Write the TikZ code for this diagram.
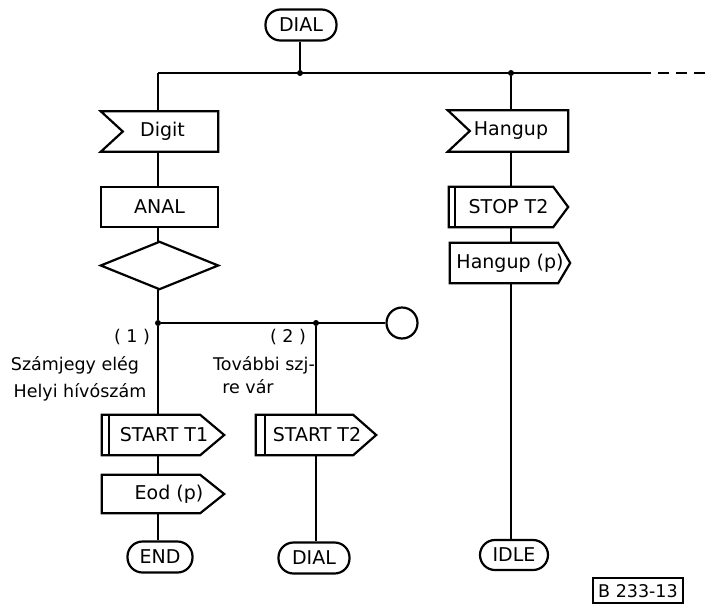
\documentclass[tikz,border=0pt]{standalone}
\usepackage{fontspec}
\setmainfont{DejaVu Sans}
\begin{document}
\begin{tikzpicture}[x=1pt,y=-1pt,
  every node/.style={inner sep=0pt},
  lbl/.style={font=\fontsize{19}{21}\selectfont},
  ann/.style={font=\fontsize{17.5}{19}\selectfont},
  term/.style={lbl, draw, line width=2.2pt, rounded corners=15pt, minimum height=31pt},
  sbox/.style={lbl, minimum height=40pt},
  outl/.style={line width=2.2pt, line join=miter},
  conn/.style={line width=1.4pt},
  jdot/.style={circle, fill, inner sep=0pt, minimum size=6pt}
]
\useasboundingbox (0,0) rectangle (710,603);

% ---- top ----
\node[term, minimum width=71pt] (dial0) at (301,25) {DIAL};
\node[jdot] (j0) at (300,73) {};
\node[jdot] (j0r) at (511,73) {};
\coordinate (busL) at (158,73);
\coordinate (busS) at (640,73);
\coordinate (busE) at (710,73);

% ---- left column ----
\node[sbox, minimum width=117pt] (digit) at (159.5,131.5) {\hspace*{6pt}Digit};
\node[sbox, draw, outl, minimum width=117pt, minimum height=40pt] (anal) at (159.5,207) {ANAL};
\node[minimum width=117pt, minimum height=47pt] (dec) at (159.5,265.5) {};
\node[jdot] (j1) at (158,323) {};
\node[jdot] (j2) at (316,323) {};
\node[circle, draw, line width=2.2pt, minimum size=31pt] (circ) at (402,323) {};

\node[ann] (n1) at (132,337) {( 1 )};
\node[ann] (t1a) at (75,365) {Számjegy elég};
\node[ann] (t1b) at (80,392) {Helyi hívószám};
\node[ann] (n2) at (288,337) {( 2 )};
\node[ann] (t2a) at (264,365) {További szj-};
\node[ann] (t2b) at (248,387) {re vár};

\node[sbox, minimum width=122pt] (start1) at (163,435) {\hspace*{2pt}START T1};
\node[sbox, minimum width=122pt, minimum height=38pt] (eod) at (163,494) {\hspace*{12pt}Eod (p)};
\node[term, minimum width=65pt] (endn) at (160,557) {END};

% ---- middle column ----
\node[sbox, minimum width=120pt] (start2) at (316,435) {\hspace*{2pt}START T2};
\node[term, minimum width=71pt] (dial2) at (314,558) {DIAL};

% ---- right column ----
\node[sbox, minimum width=120pt, minimum height=41pt] (hang) at (508,131) {\hspace*{6pt}Hangup};
\node[sbox, minimum width=119pt] (stop2) at (508.5,207) {STOP T2};
\node[sbox, minimum width=120pt] (hangp) at (510,263) {Hangup (p)};
\node[term, minimum width=68pt, minimum height=30pt] (idle) at (514,555) {IDLE};

\node[ann, draw, line width=1.4pt, minimum width=90pt, minimum height=25pt, text depth=0pt] (ref) at (638,590.5) {B 233-13};

% ---- shape outlines ----
% input signals
\draw[outl] (digit.north west) -- (digit.north east) -- (digit.south east) -- (digit.south west) -- ([xshift=22pt]digit.west) -- cycle;
\draw[outl] (hang.north west) -- (hang.north east) -- (hang.south east) -- (hang.south west) -- ([xshift=22pt]hang.west) -- cycle;
% decision
\draw[outl] (dec.north) -- (dec.east) -- (dec.south) -- (dec.west) -- cycle;
% output signals
\draw[outl] (start1.north west) -- ([xshift=-24pt]start1.north east) -- (start1.east) -- ([xshift=-24pt]start1.south east) -- (start1.south west) -- cycle;
\draw[outl] ([xshift=7pt]start1.north west) -- ([xshift=7pt]start1.south west);
\draw[outl] (eod.north west) -- ([xshift=-24pt]eod.north east) -- (eod.east) -- ([xshift=-24pt]eod.south east) -- (eod.south west) -- cycle;
\draw[outl] (start2.north west) -- ([xshift=-23pt]start2.north east) -- (start2.east) -- ([xshift=-23pt]start2.south east) -- (start2.south west) -- cycle;
\draw[outl] ([xshift=9pt]start2.north west) -- ([xshift=9pt]start2.south west);
\draw[outl] (stop2.north west) -- ([xshift=-15pt]stop2.north east) -- (stop2.east) -- ([xshift=-15pt]stop2.south east) -- (stop2.south west) -- cycle;
\draw[outl] ([xshift=6pt]stop2.north west) -- ([xshift=6pt]stop2.south west);
\draw[outl] (hangp.north west) -- ([xshift=-12pt]hangp.north east) -- (hangp.east) -- ([xshift=-12pt]hangp.south east) -- (hangp.south west) -- cycle;

% ---- connectors ----
\draw[conn] (dial0.south -| j0) -- (j0);
\draw[conn] (busL) -- (busS);
\draw[conn, dash pattern=on 11pt off 7pt] (busS) -- (busE);
\draw[conn] (busL) -- (busL |- digit.north);
\draw[conn] (digit.south -| busL) -- (anal.north -| busL);
\draw[conn] (anal.south -| busL) -- (dec.north -| busL);
\draw[conn] (dec.south -| j1) -- (j1);
\draw[conn] (j1) -- (circ.west);
\draw[conn] (j1) -- (j1 |- start1.north);
\draw[conn] (start1.south -| j1) -- (eod.north -| j1);
\draw[conn] (eod.south -| j1) -- (endn.north -| j1);
\draw[conn] (j2) -- (j2 |- start2.north);
\draw[conn] (start2.south -| j2) -- (dial2.north -| j2);
\draw[conn] (j0r) -- (j0r |- hang.north);
\draw[conn] (hang.south -| j0r) -- (stop2.north -| j0r);
\draw[conn] (stop2.south -| j0r) -- (hangp.north -| j0r);
\draw[conn] (hangp.south -| j0r) -- (j0r |- idle.north);
\end{tikzpicture}
\end{document}
